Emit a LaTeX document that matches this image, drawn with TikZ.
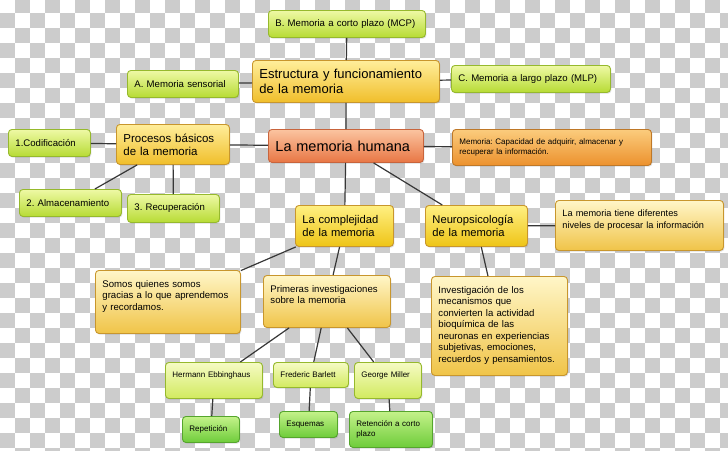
\documentclass[tikz,border=0pt]{standalone}
\usepackage{fontspec}
\setmainfont{Liberation Sans}
\usetikzlibrary{shadows}

\definecolor{lime1}{RGB}{238,249,165}
\definecolor{lime2}{RGB}{183,219,52}
\definecolor{limeline}{RGB}{150,185,45}
\definecolor{pale1}{RGB}{246,251,196}
\definecolor{pale2}{RGB}{210,234,95}
\definecolor{leaf1}{RGB}{196,242,138}
\definecolor{leaf2}{RGB}{110,204,58}
\definecolor{leafline}{RGB}{85,165,45}
\definecolor{gold1}{RGB}{255,238,155}
\definecolor{gold2}{RGB}{240,190,42}
\definecolor{goldline}{RGB}{200,150,45}
\definecolor{sun1}{RGB}{255,240,130}
\definecolor{sun2}{RGB}{238,196,22}
\definecolor{cream1}{RGB}{255,246,200}
\definecolor{cream2}{RGB}{240,196,72}
\definecolor{salmon1}{RGB}{251,196,160}
\definecolor{salmon2}{RGB}{232,118,68}
\definecolor{salmonline}{RGB}{200,100,60}
\definecolor{amber1}{RGB}{251,204,125}
\definecolor{amber2}{RGB}{236,145,45}
\definecolor{amberline}{RGB}{190,120,40}
\definecolor{wire}{RGB}{55,55,55}

\tikzset{
  box/.style={draw, rounded corners=3.5pt, anchor=north west, align=left,
    inner xsep=7pt, inner ysep=3pt, line width=0.9pt,
    drop shadow={shadow xshift=1pt, shadow yshift=-1.2pt, opacity=0.25}},
  size/.code 2 args={\pgfmathsetlengthmacro\boxtw{#1pt-14pt}%
    \edef\boxtmp{\noexpand\tikzset{minimum width=#1pt, minimum height=#2pt, text width=\boxtw}}\boxtmp},
  sz/.style 2 args={font={\fontsize{#1}{#2}\selectfont\frenchspacing}},
  lime/.style={box, top color=lime1, bottom color=lime2, draw=limeline, sz={9.6}{11.5}},
  pale/.style={box, top color=pale1, bottom color=pale2, draw=limeline, sz={8}{10}},
  leaf/.style={box, top color=leaf1, bottom color=leaf2, draw=leafline, sz={8}{10}},
  gold/.style={box, top color=gold1, bottom color=gold2, draw=goldline},
  sun/.style={box, top color=sun1, bottom color=sun2, draw=goldline, sz={11.2}{13}},
  cream/.style={box, top color=cream1, bottom color=cream2, draw=goldline, sz={9.6}{11.5}},
  link/.style={draw=wire, line width=1.2pt},
  tile/.style={fill=black!20},
}

\begin{document}
\frenchspacing
\begin{tikzpicture}[x=1pt,y=-1pt]
			\useasboundingbox (0,0) rectangle (728,450);
			% checkered background
			\scope
			\clip (0,0) rectangle (728,450);
			\fill[white] (0,0) rectangle (728,450);
			\foreach \i in {0,...,48}
			  \foreach \j in {0,...,30}{
			    \pgfmathtruncatemacro\k{\i+\j}
			    \ifodd\k \fill[tile] (15*\i,15*\j-2) rectangle ++(15,15);\fi
			  }
			\endscope
			% top branch
			\node[lime, size={157}{27}] (mcp) at (268,10) {B. Memoria a corto plazo (MCP)};
			\node[gold, sz={13}{15}, size={187}{42}] (estr) at (252,60) {Estructura y funcionamiento\\de la memoria};
			\node[lime, size={111}{27}] (sens) at (127,70) {A. Memoria sensorial};
			\node[lime, size={159}{27}] (mlp) at (451,65) {C. Memoria a largo plazo (MLP)};
			% left branch
			\node[gold, sz={11.5}{13}, size={113}{40}] (proc) at (116,124) {Procesos básicos\\de la memoria};
			\node[lime, size={82}{27}] (cod) at (8,129) {1.Codificación};
			\node[lime, size={102}{27}] (alm) at (19,189) {2. Almacenamiento};
			\node[lime, size={92}{28}] (rec) at (127,194) {3. Recuperación};
			% centre
			\node[box, top color=salmon1, bottom color=salmon2, draw=salmonline,
			  sz={14.5}{16}, size={155}{33}] (hum) at (268,129) {La memoria humana};
			\node[box, top color=amber1, bottom color=amber2, draw=amberline,
			  sz={8}{10}, size={199}{36}] (def) at (452,129) {Memoria: Capacidad de adquirir, almacenar y\\recuperar la información.};
			% lower branches
			\node[sun, size={98}{41}] (compl) at (295,205) {La complejidad\\de la memoria};
			\node[sun, size={102}{41}] (neuro) at (425,205) {Neuropsicología\\de la memoria};
			\node[cream, sz={9.2}{12}, size={168}{50}, text height=12.6pt, text depth=31.4pt] (niv) at (555,200)
			  {La memoria tiene diferentes\\niveles de procesar la información};
			\node[cream, size={145}{63}, text height=13.9pt, text depth=43.1pt] (somos) at (95,270)
			  {Somos quienes somos\\gracias a lo que aprendemos\\y recordamos.};
			\node[cream, size={127}{52}, text height=13.8pt, text depth=32.2pt] (prim) at (263,275)
			  {Primeras investigaciones\\sobre la memoria};
			\node[cream, size={136}{99}, text height=13.7pt, text depth=79.3pt] (inv) at (431,276)
			  {Investigación de los\\mecanismos que\\convierten la actividad\\bioquímica de las\\neuronas en experiencias\\subjetivas, emociones,\\recuerdos y pensamientos.};
			% researchers
			\node[pale, size={97}{36}, text height=12.3pt, text depth=17.7pt] (herm) at (165,362) {Hermann Ebbinghaus};
			\node[pale, size={75}{25}] (fred) at (273,362) {Frederic Barlett};
			\node[pale, size={67}{36}, text height=12.3pt, text depth=17.7pt] (geo) at (354,362) {George Miller};
			\node[leaf, size={57}{26}] (rep) at (182,416) {Repetición};
			\node[leaf, size={58}{26}] (esq) at (279,411) {Esquemas};
			\node[leaf, size={83}{36}] (ret) at (349,411) {Retención a corto\\plazo};
			% connectors
			\draw[link] (mcp) -- (estr) (sens) -- (estr) (estr) -- (mlp) (estr) -- (hum);
			\draw[link] (cod) -- (proc) (alm) -- (proc) (rec) -- (proc) (proc) -- (hum);
			\draw[link] (hum) -- (def) (hum) -- (compl) (hum) -- (neuro) (neuro) -- (niv);
			\draw[link] (compl) -- (somos) (compl) -- (prim) (neuro) -- (inv);
			\draw[link] (prim) -- (herm) (prim) -- (fred) (prim) -- (geo);
			\draw[link] (herm) -- (rep) (fred) -- (esq) (geo) -- (ret);
		\end{tikzpicture}
\end{document}
